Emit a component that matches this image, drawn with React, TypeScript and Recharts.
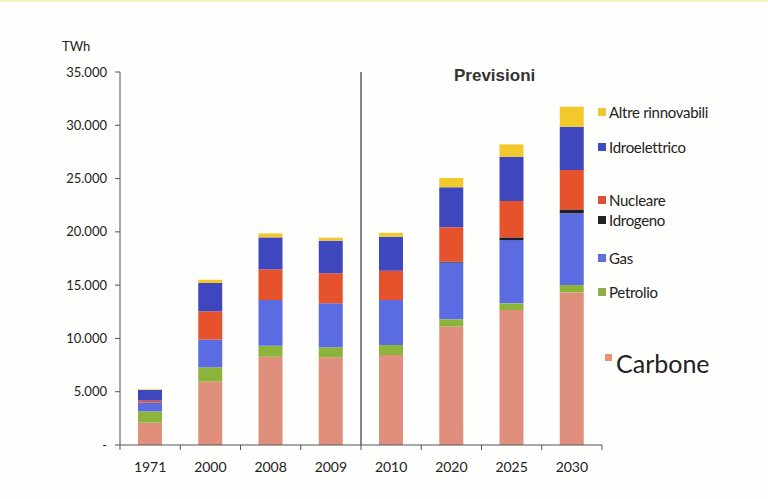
import React from "react";
import { BarChart, Bar, XAxis, YAxis, ReferenceLine } from "recharts";

const categories = ["1971", "2000", "2008", "2009", "2010", "2020", "2025", "2030"];
const carbone = [2100, 5950, 8280, 8230, 8440, 11100, 12660, 14320];
const petrolio = [1050, 1340, 1030, 940, 940, 690, 630, 690];
const gas = [820, 2600, 4290, 4130, 4220, 5320, 5940, 6720];
const idrogeno = [0, 0, 0, 0, 0, 100, 250, 375];
const nucleare = [190, 2650, 2880, 2810, 2750, 3220, 3410, 3690];
const idroelettrico = [1000, 2660, 3000, 3060, 3190, 3750, 4160, 4070];
const altre = [60, 310, 375, 280, 375, 875, 1160, 1880];
const yTicks = [0, 5000, 10000, 15000, 20000, 25000, 30000, 35000];

const series = [
  { key: "carbone", name: "Carbone", values: carbone, color: "#df8f7c" },
  { key: "petrolio", name: "Petrolio", values: petrolio, color: "#8db43a" },
  { key: "gas", name: "Gas", values: gas, color: "#5b6ce2" },
  { key: "idrogeno", name: "Idrogeno", values: idrogeno, color: "#1f1f2a" },
  { key: "nucleare", name: "Nucleare", values: nucleare, color: "#e5522c" },
  { key: "idroelettrico", name: "Idroelettrico", values: idroelettrico, color: "#3e47bd" },
  { key: "altre", name: "Altre rinnovabili", values: altre, color: "#f1c92b" },
];

const data = categories.map((c, i) => {
  const row: Record<string, any> = { year: c };
  series.forEach((s) => (row[s.key] = s.values[i]));
  return row;
});

const W = 768;
const H = 499;
const margin = { top: 72, right: 166, bottom: 24, left: 58 };
const Y_W = 62;
const plotW = W - margin.left - margin.right - Y_W;
const step = plotW / categories.length;

const fmt = (v: number) =>
  v === 0 ? "-" : v.toLocaleString("it-IT").replace(/\s/g, ".");

const XTick = (props: any) => {
  const { x, y, payload, index } = props;
  return (
    <g>
      <line x1={x - step / 2} x2={x - step / 2} y1={y - 8} y2={y - 3} stroke="#555" />
      {index === categories.length - 1 && (
        <line x1={x + step / 2} x2={x + step / 2} y1={y - 8} y2={y - 3} stroke="#555" />
      )}
      <text x={x} y={y + 19} textAnchor="middle" fontSize={14} fill="#222" fontFamily="Lato, sans-serif">
        {payload.value}
      </text>
    </g>
  );
};

const legendItems = [
  { name: "Altre rinnovabili", color: "#eac63a", top: 110 },
  { name: "Idroelettrico", color: "#3f4cbf", top: 145 },
  { name: "Nucleare", color: "#e0503c", top: 198 },
  { name: "Idrogeno", color: "#222222", top: 218 },
  { name: "Gas", color: "#5f70dc", top: 256 },
  { name: "Petrolio", color: "#8fae4c", top: 290 },
];

const LegendBlock = () => (
  <div style={{ position: "absolute", left: 598, top: 0, width: 170, height: 400 }}>
    {legendItems.map((it) => (
      <div
        key={it.name}
        style={{
          position: "absolute",
          left: 0,
          top: it.top - 10,
          height: 20,
          display: "flex",
          alignItems: "center",
          fontFamily: "Lato, sans-serif",
          fontSize: 15,
          color: "#222",
          whiteSpace: "nowrap",
          letterSpacing: -0.3,
        }}
      >
        <span style={{ display: "inline-block", width: 8, height: 8, background: it.color, marginRight: 3 }} />
        {it.name}
      </div>
    ))}
    <div
      style={{
        position: "absolute",
        left: 7,
        top: 346,
        display: "flex",
        alignItems: "flex-start",
        fontFamily: "Lato, sans-serif",
        fontSize: 25,
        color: "#222",
        whiteSpace: "nowrap",
      }}
    >
      <span style={{ display: "inline-block", width: 7, height: 7, background: "#e39479", marginRight: 4, marginTop: 6 }} />
      Carbone
    </div>
  </div>
);

export default function App() {
  return (
    <div
      style={{
        position: "absolute",
        left: 0,
        top: 0,
        width: W,
        height: H,
        background: "#fefefc",
        borderTop: "2px solid #f2f2c4",
        boxSizing: "border-box",
        overflow: "hidden",
      }}
    >
      <div style={{ position: "absolute", left: 0, top: -2 }}>
        <BarChart width={W} height={H} data={data} margin={margin} barSize={24}>
          <XAxis
            dataKey="year"
            height={30}
            tickLine={false}
            axisLine={{ stroke: "#555" }}
            tick={<XTick />}
            interval={0}
          />
          <YAxis
            width={Y_W}
            domain={[0, 35000]}
            ticks={yTicks}
            tickFormatter={fmt}
            axisLine={{ stroke: "#555" }}
            tickLine={{ stroke: "#555" }}
            tickSize={5}
            tick={{ fontSize: 13, fill: "#222", fontFamily: "Lato, sans-serif" }}
            tickMargin={8}
          />
          {series.map((s) => (
            <Bar
              key={s.key}
              dataKey={s.key}
              name={s.name}
              stackId="a"
              fill={s.color}
              isAnimationActive={false}
            />
          ))}
          <ReferenceLine x="2009" position="end" stroke="#333" strokeWidth={1.2} />
        </BarChart>
      </div>
      <div
        style={{
          position: "absolute",
          left: 62,
          top: 36,
          fontFamily: "Lato, sans-serif",
          fontSize: 13,
          color: "#222",
        }}
      >
        TWh
      </div>
      <div
        style={{
          position: "absolute",
          left: 454,
          top: 64,
          fontFamily: "'Liberation Sans', Arial, sans-serif",
          fontWeight: "bold",
          fontSize: 17,
          color: "#333",
        }}
      >
        Previsioni
      </div>
      <LegendBlock />
    </div>
  );
}
